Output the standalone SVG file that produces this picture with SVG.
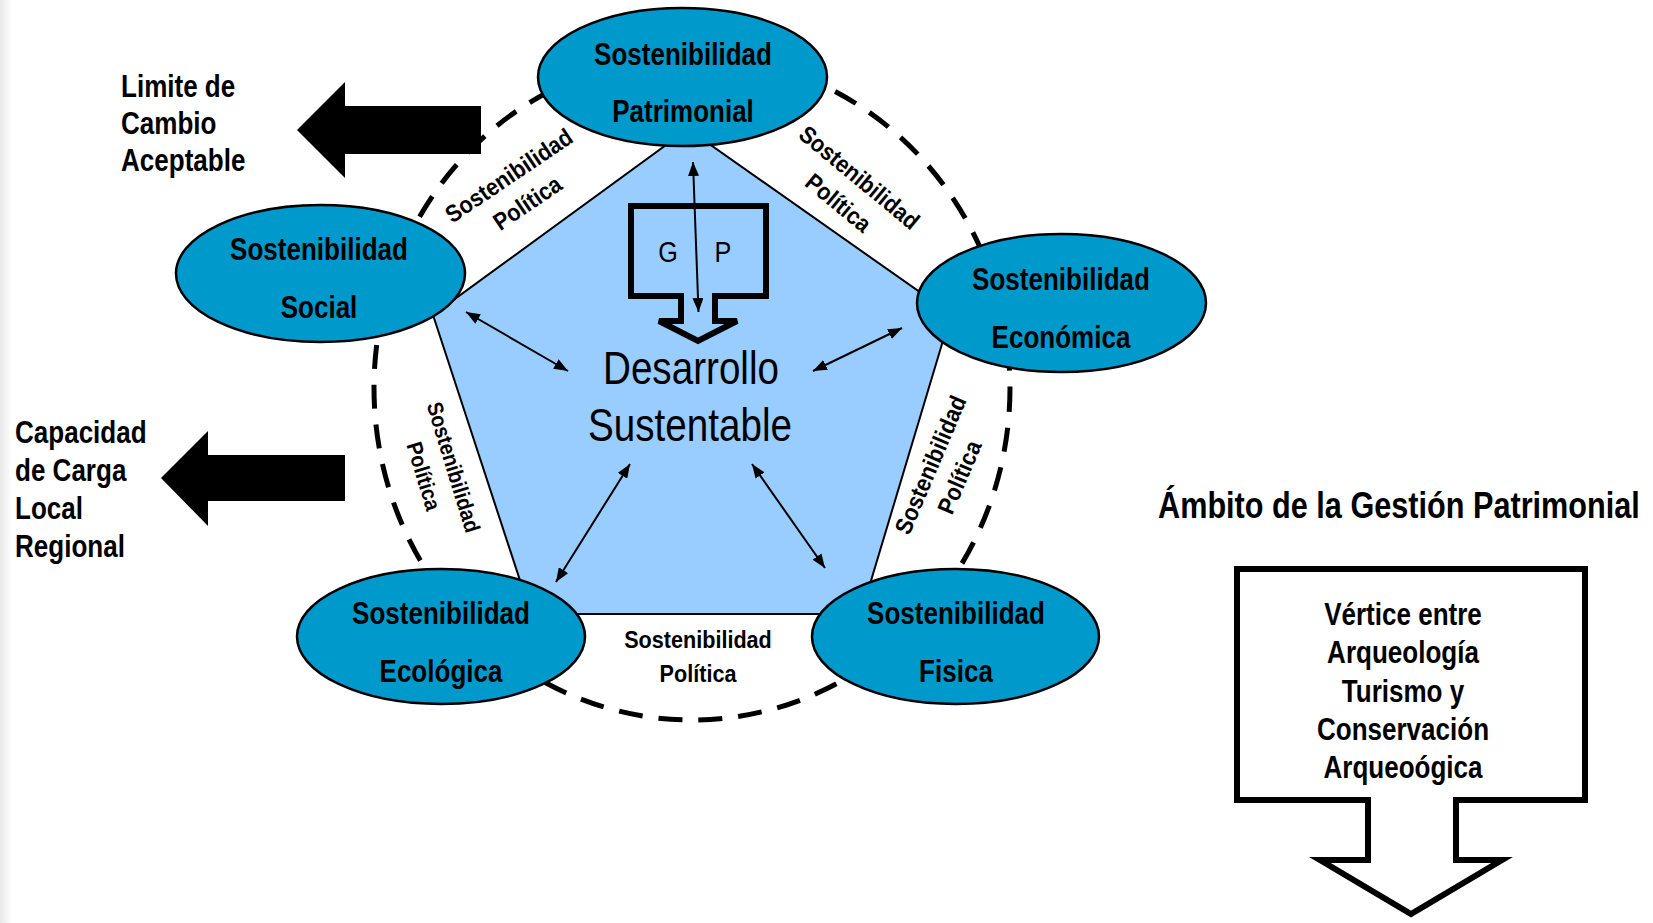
<svg xmlns="http://www.w3.org/2000/svg" width="1653" height="923" viewBox="0 0 1653 923">
<defs>
<style>
text{font-family:"Liberation Sans",Arial,sans-serif;fill:#000}
.b{font-weight:bold;font-size:31px}
.sp{font-weight:bold;font-size:24px}
.sps{font-weight:bold;font-size:22px}
.big{font-size:46px}
.gp{font-size:30px}
.ell{fill:#0099CC;stroke:#000;stroke-width:2.5}
.con{stroke:#000;stroke-width:2;fill:none}
.blk{fill:#000;stroke:none}
.out{fill:none;stroke:#000;stroke-width:6;stroke-linejoin:miter}
</style>
<marker id="ah" viewBox="0 0 14 11" refX="14" refY="5.5" markerWidth="14" markerHeight="11" markerUnits="userSpaceOnUse" orient="auto-start-reverse"><path d="M0,0 L14,5.5 L0,11 Z" fill="#000"/></marker>
<linearGradient id="edge" x1="0" x2="1" y1="0" y2="0"><stop offset="0" stop-color="#e8e8e8"/><stop offset="1" stop-color="#ffffff"/></linearGradient>
</defs>
<rect x="0" y="0" width="1653" height="923" fill="#fff"/>
<rect x="0" y="0" width="12" height="923" fill="url(#edge)"/>

<g id="boundary">
<ellipse cx="692" cy="388" rx="318" ry="332" fill="none" stroke="#000" stroke-width="5" stroke-dasharray="24 16"/>
</g>

<g id="node-desarrollo">
<polygon points="688,129 951,314 861,614 531,614 433,315" fill="#99CCFF" stroke="#000" stroke-width="2"/>
<text class="big" text-anchor="middle" transform="translate(691 384) scale(0.84 1)">Desarrollo</text>
<text class="big" text-anchor="middle" transform="translate(690 441) scale(0.84 1)">Sustentable</text>
</g>

<g id="node-gp">
<path class="out" d="M631,206 H766 V296 H715 V321 H737 L698,341 L659,321 H681 V296 H631 Z"/>
<text class="gp" text-anchor="middle" transform="translate(668 262) scale(0.84 1)">G</text>
<text class="gp" text-anchor="middle" transform="translate(723 262) scale(0.84 1)">P</text>
</g>

<g id="node-patrimonial">
<ellipse class="ell" cx="682.5" cy="77" rx="144.5" ry="69"/>
<text class="b" text-anchor="middle" transform="translate(683 65) scale(0.84 1)">Sostenibilidad</text>
<text class="b" text-anchor="middle" transform="translate(683 122) scale(0.84 1)">Patrimonial</text>
</g>

<g id="node-social">
<ellipse class="ell" cx="320.5" cy="273.5" rx="144.5" ry="68.5"/>
<text class="b" text-anchor="middle" transform="translate(319 260) scale(0.84 1)">Sostenibilidad</text>
<text class="b" text-anchor="middle" transform="translate(319 318) scale(0.84 1)">Social</text>
</g>

<g id="node-economica">
<ellipse class="ell" cx="1061.5" cy="303" rx="144.5" ry="69"/>
<text class="b" text-anchor="middle" transform="translate(1061 290) scale(0.84 1)">Sostenibilidad</text>
<text class="b" text-anchor="middle" transform="translate(1061 348) scale(0.84 1)">Económica</text>
</g>

<g id="node-ecologica">
<ellipse class="ell" cx="441" cy="636.5" rx="144" ry="67.5"/>
<text class="b" text-anchor="middle" transform="translate(441 623.5) scale(0.84 1)">Sostenibilidad</text>
<text class="b" text-anchor="middle" transform="translate(441 682) scale(0.84 1)">Ecológica</text>
</g>

<g id="node-fisica">
<ellipse class="ell" cx="955.5" cy="636.5" rx="143.5" ry="67.5"/>
<text class="b" text-anchor="middle" transform="translate(956 623.5) scale(0.84 1)">Sostenibilidad</text>
<text class="b" text-anchor="middle" transform="translate(956 682) scale(0.84 1)">Fisica</text>
</g>

<g id="connectors">
<line class="con" x1="693" y1="162" x2="698.5" y2="312" marker-start="url(#ah)" marker-end="url(#ah)"/>
<line class="con" x1="466" y1="312" x2="568" y2="371" marker-start="url(#ah)" marker-end="url(#ah)"/>
<line class="con" x1="902" y1="328" x2="813" y2="371" marker-start="url(#ah)" marker-end="url(#ah)"/>
<line class="con" x1="630" y1="464" x2="556" y2="582" marker-start="url(#ah)" marker-end="url(#ah)"/>
<line class="con" x1="752" y1="464" x2="825" y2="568" marker-start="url(#ah)" marker-end="url(#ah)"/>
</g>

<g id="labels-politica">
<text class="sp" text-anchor="middle" transform="translate(518 189) rotate(-34) scale(0.9 1)"><tspan x="0" y="-8">Sostenibilidad</tspan><tspan x="0" y="25">Política</tspan></text>
<text class="sp" text-anchor="middle" transform="translate(849 190) rotate(39.5) scale(0.9 1)"><tspan x="0" y="-8">Sostenibilidad</tspan><tspan x="0" y="25">Política</tspan></text>
<text class="sps" text-anchor="middle" transform="translate(439 471.5) rotate(73) scale(0.9 1)"><tspan x="0" y="-7.5">Sostenibilidad</tspan><tspan x="0" y="23.5">Política</tspan></text>
<text class="sp" text-anchor="middle" transform="translate(945 471) rotate(-67) scale(0.9 1)"><tspan x="0" y="-7.5">Sostenibilidad</tspan><tspan x="0" y="24">Política</tspan></text>
<text class="sp" text-anchor="middle" transform="translate(698 648) scale(0.9 1)">Sostenibilidad</text>
<text class="sp" text-anchor="middle" transform="translate(698 681.5) scale(0.9 1)">Política</text>
</g>

<g id="node-limite">
<path class="blk" d="M297,130 L345,82 V106 H481 V154 H345 V178 Z"/>
<text class="b" transform="translate(121 97) scale(0.84 1)">Limite de</text>
<text class="b" transform="translate(121 134) scale(0.84 1)">Cambio</text>
<text class="b" transform="translate(121 171) scale(0.84 1)">Aceptable</text>
</g>

<g id="node-capacidad">
<path class="blk" d="M161,478 L208,431 V455 H345 V501 H208 V526 Z"/>
<text class="b" transform="translate(15 443) scale(0.84 1)">Capacidad</text>
<text class="b" transform="translate(15 481) scale(0.84 1)">de Carga</text>
<text class="b" transform="translate(15 519) scale(0.84 1)">Local</text>
<text class="b" transform="translate(15 557) scale(0.84 1)">Regional</text>
</g>

<g id="node-ambito">
<text class="b" style="font-size:36.5px" transform="translate(1158 518) scale(0.84 1)">Ámbito de la Gestión Patrimonial</text>
<path class="out" d="M1237,569 H1585 V800 H1456 V860 H1502 L1411,914 L1320,860 H1368 V800 H1237 Z"/>
<text class="b" text-anchor="middle" transform="translate(1403 625) scale(0.84 1)">Vértice entre</text>
<text class="b" text-anchor="middle" transform="translate(1403 663) scale(0.84 1)">Arqueología</text>
<text class="b" text-anchor="middle" transform="translate(1403 702) scale(0.84 1)">Turismo y</text>
<text class="b" text-anchor="middle" transform="translate(1403 740) scale(0.84 1)">Conservación</text>
<text class="b" text-anchor="middle" transform="translate(1403 778) scale(0.84 1)">Arqueoógica</text>
</g>
</svg>
